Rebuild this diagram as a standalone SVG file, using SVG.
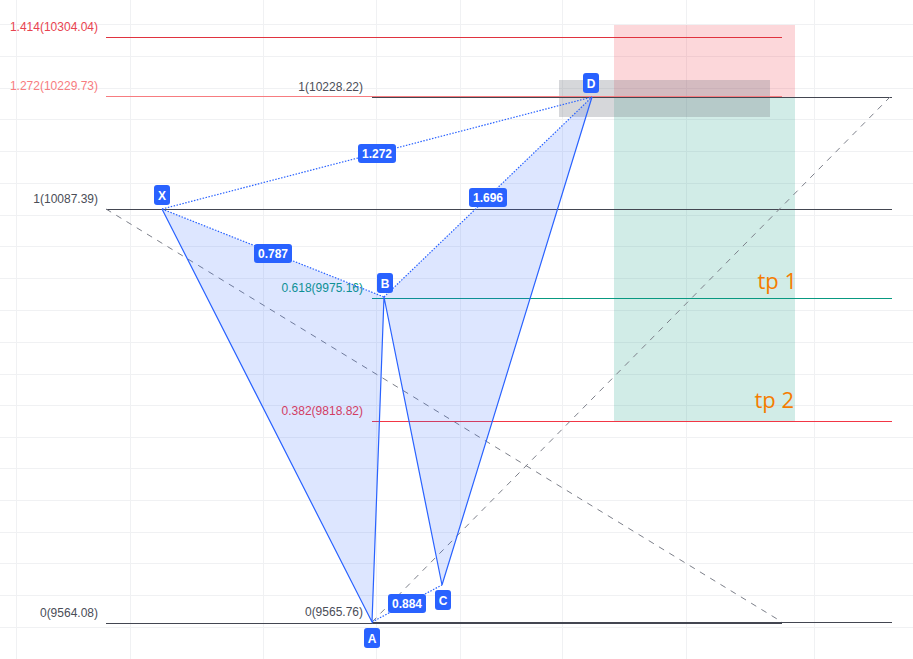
<svg xmlns="http://www.w3.org/2000/svg" width="913" height="659" viewBox="0 0 913 659">
<style>
.grid{stroke:#f0f1f3;stroke-width:1}
.lvl{font-family:"Liberation Sans",Arial,sans-serif;font-size:12px;text-anchor:end}
.fib{stroke:#434651;stroke-width:1;fill:none}
.dash{stroke:#7d808a;stroke-width:1;stroke-dasharray:6,6;fill:none}
.leg{stroke:#2962ff;stroke-width:1.2;fill:none}
.dot{stroke:#2962ff;stroke-width:1.2;stroke-dasharray:1.5,1.5;fill:none}
.tri{fill:#2962ff;fill-opacity:0.16;stroke:none}
.box{fill:#2962ff}
.bt{font-family:"Liberation Sans",Arial,sans-serif;font-size:12px;font-weight:bold;fill:#fff;text-anchor:middle}
.tp{font-family:"Open Sans","Liberation Sans",sans-serif;font-size:22px;fill:#f57c00;text-anchor:end}
</style>
<rect width="913" height="659" fill="#ffffff"/>
<g id="grid">
<path class="grid" d="M16.5 0V659M130.5 0V659M263.5 0V659M376.5 0V659M460.5 0V659M562.5 0V659M686.5 0V659M814.5 0V659"/>
<path class="grid" d="M0 24.5H913M0 56.5H913M0 88.5H913M0 119.5H913M0 151.5H913M0 183.5H913M0 215.5H913M0 246.5H913M0 278.5H913M0 310.5H913M0 342.5H913M0 374.5H913M0 405.5H913M0 437.5H913M0 468.5H913M0 500.5H913M0 532.5H913M0 563.5H913M0 595.5H913M0 627.5H913"/>
</g>
<g id="position">
<rect x="614" y="25" width="181" height="72" fill="#f23645" fill-opacity="0.2"/>
<rect x="614" y="97" width="181" height="324" fill="#089981" fill-opacity="0.19"/>
<rect x="559" y="80" width="211" height="37" fill="#787b86" fill-opacity="0.3"/>
</g>
<g id="fib1">
<line x1="106" y1="37.5" x2="782" y2="37.5" stroke="#e0333f" stroke-width="1"/>
<line x1="106" y1="96.5" x2="782" y2="96.5" stroke="#f77c80" stroke-width="1"/>
<line class="fib" x1="106" y1="209.5" x2="892" y2="209.5"/>
<line class="fib" x1="106" y1="623.5" x2="782" y2="623.5"/>
<line class="dash" x1="106" y1="209" x2="782" y2="622"/>
<text class="lvl" x="98" y="31" fill="#e8434f">1.414(10304.04)</text>
<text class="lvl" x="98" y="90" fill="#f77c80">1.272(10229.73)</text>
<text class="lvl" x="98" y="203" fill="#4a4d57">1(10087.39)</text>
<text class="lvl" x="98" y="617" fill="#4a4d57">0(9564.08)</text>
</g>
<g id="fib2">
<line class="fib" x1="372" y1="97.5" x2="892" y2="97.5"/>
<line x1="372" y1="298.5" x2="892" y2="298.5" stroke="#089981" stroke-width="1"/>
<line x1="372" y1="421.5" x2="892" y2="421.5" stroke="#f23645" stroke-width="1"/>
<line class="fib" x1="372" y1="622.5" x2="892" y2="622.5"/>
<line class="dash" x1="372" y1="622" x2="890" y2="97"/>
<text class="lvl" x="363" y="91" fill="#4a4d57">1(10228.22)</text>
<text class="lvl" x="363" y="292" fill="#089981">0.618(9975.16)</text>
<text class="lvl" x="363" y="415" fill="#f23645">0.382(9818.82)</text>
<text class="lvl" x="363" y="616" fill="#4a4d57">0(9565.76)</text>
</g>
<g id="pattern">
<polygon class="tri" points="162,209 372,622 384,297"/>
<polygon class="tri" points="384,297 442,585 592,97"/>
<g id="connectors">
<path class="leg" d="M162 209L372 622L384 297L442 585L592 97"/>
<path class="dot" d="M162 209L384 297"/>
<path class="dot" d="M384 297L592 97"/>
<path class="dot" d="M162 209L592 97"/>
<path class="dot" d="M372 622L442 585"/>
</g>
</g>
<g id="ratio-1272"><rect class="box" x="358" y="144" width="38" height="19" rx="3"/><text class="bt" x="377" y="158">1.272</text></g>
<g id="ratio-1696"><rect class="box" x="469" y="188" width="38" height="19" rx="3"/><text class="bt" x="488" y="202">1.696</text></g>
<g id="ratio-0787"><rect class="box" x="254" y="244" width="38" height="19" rx="3"/><text class="bt" x="273" y="258">0.787</text></g>
<g id="ratio-0884"><rect class="box" x="388" y="594" width="38" height="19" rx="3"/><text class="bt" x="407" y="608">0.884</text></g>
<g id="node-X"><rect class="box" x="154" y="185" width="16" height="20" rx="3"/><text class="bt" x="162" y="199.5">X</text></g>
<g id="node-B"><rect class="box" x="377" y="273" width="16" height="20" rx="3"/><text class="bt" x="385" y="287.5">B</text></g>
<g id="node-D"><rect class="box" x="583" y="73" width="16" height="20" rx="3"/><text class="bt" x="591" y="87.5">D</text></g>
<g id="node-A"><rect class="box" x="364" y="628" width="16" height="20" rx="3"/><text class="bt" x="372" y="642.5">A</text></g>
<g id="node-C"><rect class="box" x="435" y="590" width="16" height="20" rx="3"/><text class="bt" x="443" y="604.5">C</text></g>
<g id="tp-labels">
<text class="tp" x="797" y="289">tp 1</text>
<text class="tp" x="794" y="408">tp 2</text>
</g>
</svg>
